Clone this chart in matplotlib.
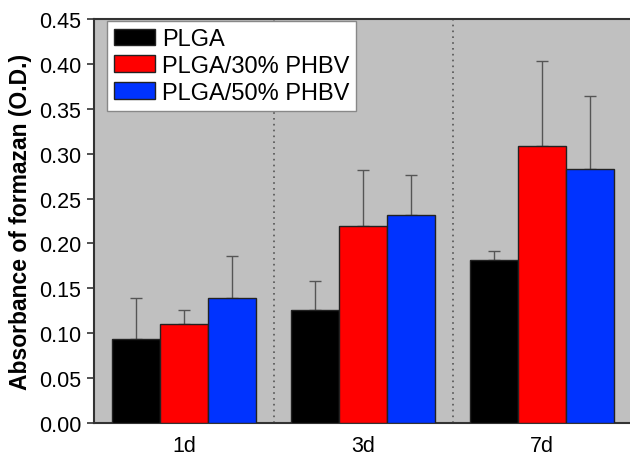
import matplotlib
matplotlib.use("Agg")
import matplotlib.pyplot as plt
import numpy as np

plt.rcParams['font.family'] = ['Liberation Sans', 'DejaVu Sans']

categories = ["1d", "3d", "7d"]
series_names = ["PLGA", "PLGA/30% PHBV", "PLGA/50% PHBV"]
plga = [0.094, 0.126, 0.182]
plga30 = [0.110, 0.219, 0.309]
plga50 = [0.139, 0.232, 0.283]
plga_err = [0.045, 0.032, 0.010]
plga30_err = [0.016, 0.063, 0.094]
plga50_err = [0.047, 0.044, 0.081]
yticks = [0.00, 0.05, 0.10, 0.15, 0.20, 0.25, 0.30, 0.35, 0.40, 0.45]

colors = ["#000000", "#ff0000", "#0033ff"]

fig = plt.figure(figsize=(6.3, 4.56), dpi=100)
ax = fig.add_axes([94/630, 32/456, (631-94)/630, (424-20)/456])
ax.set_facecolor("#c0c0c0")

x = np.arange(len(categories))
w = 0.268
vals = [plga, plga30, plga50]
errs = [plga_err, plga30_err, plga50_err]
for i, (v, e, c, n) in enumerate(zip(vals, errs, colors, series_names)):
    pos = x + (i - 1) * w
    ax.bar(pos, v, width=w, color=c, edgecolor="#222222", linewidth=1.0, label=n, zorder=3)
    ax.errorbar(pos, v, yerr=[np.zeros(len(e)), e], fmt="none", ecolor="#555555",
                elinewidth=1.0, capsize=4, capthick=1.0, zorder=2)

for s in [0.5, 1.5]:
    ax.axvline(s, color="#555555", linestyle=(0, (1, 2.5)), linewidth=1.2, zorder=1)

ax.set_xlim(-0.503, 2.497)
ax.set_ylim(0, 0.45)
ax.set_yticks(yticks)
ax.set_yticklabels([f"{t:.2f}" for t in yticks], fontsize=15.5)
ax.set_xticks(x)
ax.set_xticklabels(categories, fontsize=15.5)
ax.tick_params(axis="x", length=0, pad=9)
ax.tick_params(axis="y", length=5, width=1.2, color="#333333", pad=4)
for sp in ax.spines.values():
    sp.set_color("#333333")
    sp.set_linewidth(1.5)
ax.spines["right"].set_visible(False)

ax.set_ylabel("Absorbance of formazan (O.D.)", fontsize=16.5, fontweight="bold", labelpad=5)

leg = ax.legend(loc="upper left", fontsize=17, frameon=True, fancybox=False,
                edgecolor="#888888", framealpha=1.0, handlelength=1.72, handleheight=0.7,
                labelspacing=0.2, borderpad=0.3, handletextpad=0.3, borderaxespad=0,
                bbox_to_anchor=(0.024, 0.995))
leg.get_frame().set_linewidth(1.0)

fig.savefig("out.png", dpi=100)
